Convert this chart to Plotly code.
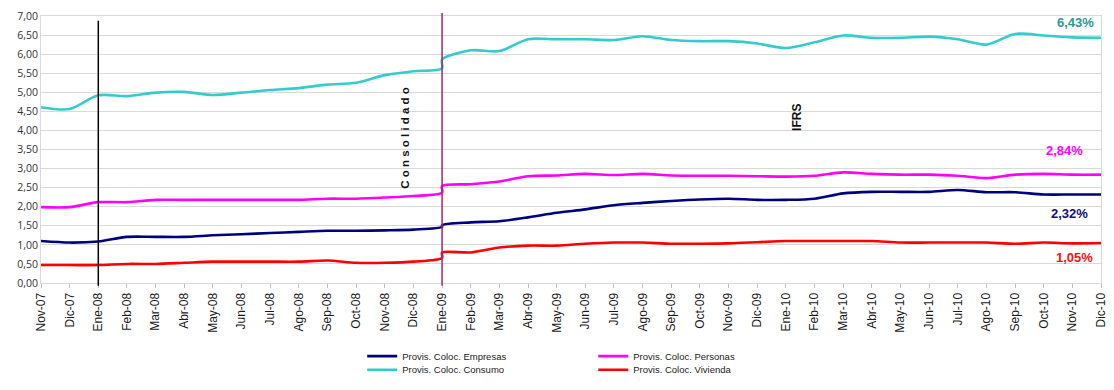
import plotly.graph_objects as go

months = ["Nov-07", "Dic-07", "Ene-08", "Feb-08", "Mar-08", "Abr-08", "May-08", "Jun-08",
          "Jul-08", "Ago-08", "Sep-08", "Oct-08", "Nov-08", "Dic-08", "Ene-09", "Feb-09",
          "Mar-09", "Abr-09", "May-09", "Jun-09", "Jul-09", "Ago-09", "Sep-09", "Oct-09",
          "Nov-09", "Dic-09", "Ene-10", "Feb-10", "Mar-10", "Abr-10", "May-10", "Jun-10",
          "Jul-10", "Ago-10", "Sep-10", "Oct-10", "Nov-10", "Dic-10"]

# Ene-09 appears twice: last consolidated value, then first IFRS value
x_cats = months[:15] + months[14:]

empresas = [1.10, 1.06, 1.09, 1.21, 1.21, 1.21, 1.25, 1.28, 1.31, 1.34, 1.37, 1.37, 1.38, 1.40, 1.47,
            1.52, 1.59, 1.62, 1.72, 1.84, 1.93, 2.04, 2.10, 2.15, 2.19, 2.21, 2.18, 2.18, 2.21,
            2.35, 2.39, 2.39, 2.39, 2.44, 2.38, 2.38, 2.32, 2.32, 2.32]
consumo = [4.61, 4.56, 4.92, 4.90, 4.99, 5.01, 4.93, 4.99, 5.06, 5.11, 5.20, 5.25, 5.45, 5.55, 5.63,
           5.86, 6.10, 6.08, 6.39, 6.39, 6.39, 6.37, 6.47, 6.37, 6.34, 6.34, 6.28, 6.16, 6.31,
           6.49, 6.43, 6.43, 6.46, 6.39, 6.25, 6.53, 6.49, 6.44, 6.43]
personas = [1.99, 1.99, 2.12, 2.12, 2.18, 2.18, 2.18, 2.18, 2.18, 2.18, 2.21, 2.21, 2.24, 2.28, 2.37,
            2.54, 2.59, 2.66, 2.80, 2.82, 2.86, 2.83, 2.86, 2.82, 2.81, 2.81, 2.80, 2.79, 2.81,
            2.90, 2.86, 2.84, 2.84, 2.81, 2.75, 2.84, 2.86, 2.84, 2.84]
vivienda = [0.47, 0.47, 0.47, 0.50, 0.50, 0.53, 0.56, 0.56, 0.56, 0.56, 0.59, 0.53, 0.53, 0.56, 0.66,
            0.80, 0.80, 0.93, 0.98, 0.98, 1.03, 1.06, 1.06, 1.03, 1.03, 1.04, 1.07, 1.10, 1.10,
            1.10, 1.10, 1.06, 1.06, 1.06, 1.06, 1.03, 1.06, 1.04, 1.05]

series = [
    ("Provis. Coloc. Empresas", empresas, "#000080", "legend"),
    ("Provis. Coloc. Consumo", consumo, "#33CCCC", "legend2"),
    ("Provis. Coloc. Personas", personas, "#FF00FF", "legend3"),
    ("Provis. Coloc. Vivienda", vivienda, "#FF0000", "legend4"),
]

label_style = {
    "Provis. Coloc. Empresas": ("#101080", -11, -19),
    "Provis. Coloc. Consumo": ("#2A9A96", -5, 15),
    "Provis. Coloc. Personas": ("#FF00FF", -16, 24),
    "Provis. Coloc. Vivienda": ("#FF1010", -6, -15),
}

fig = go.Figure()
for name, vals, color, leg in series:
    fig.add_trace(go.Scatter(x=x_cats, y=vals, name=name, mode="lines",
                             line=dict(color=color, width=2.6, shape="spline", smoothing=0.8),
                             legend=leg))

for name, vals, color, leg in series:
    c, xs, ys = label_style[name]
    fig.add_annotation(x=months[-1], y=vals[-1], text=f"<b>{vals[-1]:.2f}%</b>".replace(".", ","),
                       showarrow=False, xanchor="right", xshift=xs, yshift=ys,
                       font=dict(family="Liberation Sans", size=13, color=c))

fig.add_annotation(x="Dic-08", y=3.82, xshift=-8, text="<b>C o n s o l i d a d o</b>", textangle=-90,
                   showarrow=False, font=dict(family="Liberation Sans", size=11.5, color="#111111"))
fig.add_annotation(x="Ene-10", y=4.35, xshift=11, text="<b>IFRS</b>", textangle=-90,
                   showarrow=False, font=dict(family="Liberation Sans", size=12, color="#111111"))

fig.add_shape(type="line", xref="x", yref="paper", x0="Ene-08", x1="Ene-08", y0=-0.01, y1=0.982,
              line=dict(color="#000000", width=1.5), layer="above")
fig.add_shape(type="line", xref="x", yref="paper", x0="Ene-09", x1="Ene-09", y0=-0.01, y1=1.011,
              line=dict(color="#9E2A6A", width=1.5), layer="above")

leg_font = dict(family="Liberation Sans", size=9.5, color="#222222")
leg_common = dict(xanchor="left", yanchor="middle", orientation="v", font=leg_font,
                  bgcolor="rgba(0,0,0,0)", tracegroupgap=0, itemwidth=30)

fig.update_layout(
    width=1114, height=390,
    margin=dict(l=41, r=6, t=16, b=97),
    plot_bgcolor="white", paper_bgcolor="white",
    separators=", ",
    showlegend=True,
    legend=dict(x=0.303, y=-0.274, **leg_common),
    legend2=dict(x=0.303, y=-0.325, **leg_common),
    legend3=dict(x=0.521, y=-0.274, **leg_common),
    legend4=dict(x=0.521, y=-0.325, **leg_common),
    xaxis=dict(type="category", categoryorder="array", categoryarray=months,
               range=[0, len(months) - 1], tickangle=-90, ticks="outside", ticklen=4,
               tickcolor="#BFBFBF", showgrid=False, showline=True, linecolor="#D9D9D9",
               mirror=True, tickfont=dict(family="Liberation Sans", size=12, color="#1A1A1A")),
    yaxis=dict(range=[0, 7], dtick=0.5, tick0=0, tickformat=".2f", showgrid=True,
               gridcolor="#D9D9D9", gridwidth=1, showline=True, linecolor="#D9D9D9", mirror=True,
               zeroline=False, ticks="", tickfont=dict(family="Open Sans", size=10.5, color="#333333")),
)

fig.write_html("out.html")
